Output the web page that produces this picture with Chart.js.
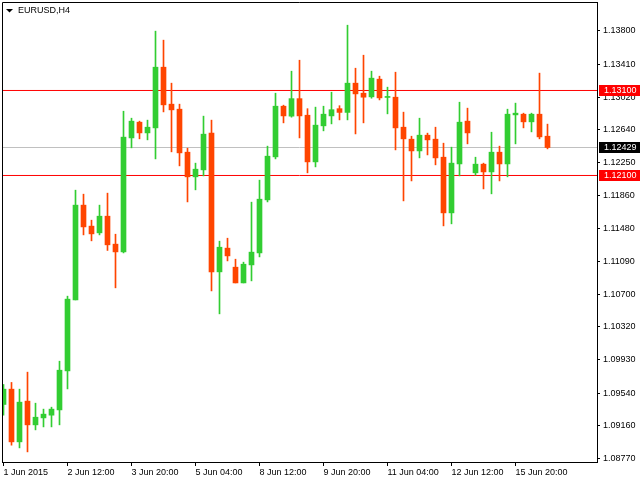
<!DOCTYPE html>
<html>
<head>
<meta charset="utf-8">
<script src="https://cdn.jsdelivr.net/npm/chart.js@4"></script>
<style>
  html, body { margin: 0; padding: 0; background: #fff; }
  #wrap { width: 640px; height: 480px; }
</style>
</head>
<body>
<div id="wrap"><canvas id="eurusdChart"></canvas></div>
<script>
// EURUSD H4 candles, 1 Jun 2015 .. 16 Jun 2015
const opens = [
  1.09406, 1.09586, 1.08966, 1.09445, 1.09166, 1.09248, 1.09280, 1.09342, 1.09801, 1.10636,
  1.11751, 1.11504, 1.11425, 1.11621, 1.11292, 1.11201, 1.12542, 1.12727, 1.12601, 1.12660,
  1.13374, 1.12939, 1.12880, 1.12374, 1.12084, 1.12166, 1.12598, 1.10966, 1.11245, 1.11021,
  1.10836, 1.11048, 1.11189, 1.11813, 1.12319, 1.12915, 1.12798, 1.13004, 1.12809, 1.12260,
  1.12684, 1.12801, 1.12886, 1.12842, 1.13186, 1.13068, 1.13025, 1.13233, 1.13018, 1.13021,
  1.12668, 1.12527, 1.12389, 1.12574, 1.12527, 1.12315, 1.11660, 1.12236, 1.12739, 1.12131,
  1.12233, 1.12142, 1.12374, 1.12236, 1.12813, 1.12821, 1.12731, 1.12821, 1.12562
];
const highs = [
  1.09641, 1.09665, 1.09586, 1.09786, 1.09421, 1.09351, 1.09374, 1.09915, 1.10680, 1.11927,
  1.11880, 1.11574, 1.11751, 1.11892, 1.11409, 1.12856, 1.12774, 1.12739, 1.12751, 1.13798,
  1.13692, 1.13186, 1.12939, 1.12421, 1.12245, 1.12798, 1.12751, 1.11327, 1.11362, 1.11115,
  1.11080, 1.11786, 1.12045, 1.12445, 1.13068, 1.12927, 1.13327, 1.13456, 1.12886, 1.12904,
  1.12915, 1.13080, 1.12921, 1.13868, 1.13362, 1.13515, 1.13327, 1.13268, 1.13139, 1.13315,
  1.12845, 1.12562, 1.12774, 1.12598, 1.12668, 1.12480, 1.12433, 1.12962, 1.12892, 1.12315,
  1.12245, 1.12609, 1.12445, 1.12880, 1.12951, 1.12833, 1.12833, 1.13304, 1.12704
];
const lows = [
  1.09280, 1.08927, 1.08895, 1.08848, 1.09107, 1.09142, 1.09142, 1.09166, 1.09589, 1.10636,
  1.11401, 1.11331, 1.11401, 1.11218, 1.10778, 1.11189, 1.12425, 1.12531, 1.12519, 1.12295,
  1.12848, 1.12378, 1.12213, 1.11789, 1.11931, 1.12095, 1.10742, 1.10472, 1.11095, 1.10836,
  1.10836, 1.10860, 1.11142, 1.11789, 1.12295, 1.12719, 1.12786, 1.12542, 1.12131, 1.12201,
  1.12625, 1.12707, 1.12754, 1.12754, 1.12589, 1.12719, 1.13009, 1.12989, 1.12825, 1.12401,
  1.11801, 1.12036, 1.12307, 1.12342, 1.12225, 1.11507, 1.11531, 1.12095, 1.12472, 1.12104,
  1.11942, 1.11884, 1.12036, 1.12084, 1.12472, 1.12660, 1.12613, 1.12531, 1.12413
];
const closes = [
  1.09586, 1.08966, 1.09433, 1.09166, 1.09256, 1.09292, 1.09351, 1.09809, 1.10645, 1.11751,
  1.11495, 1.11413, 1.11621, 1.11284, 1.11201, 1.12551, 1.12739, 1.12601, 1.12668, 1.13374,
  1.12931, 1.12872, 1.12366, 1.12084, 1.12174, 1.12586, 1.10966, 1.11256, 1.11154, 1.10836,
  1.11056, 1.11198, 1.11821, 1.12327, 1.12915, 1.12801, 1.13004, 1.12801, 1.12260, 1.12692,
  1.12821, 1.12874, 1.12842, 1.13186, 1.13060, 1.13021, 1.13245, 1.13013, 1.13021, 1.12660,
  1.12531, 1.12389, 1.12574, 1.12519, 1.12307, 1.11660, 1.12245, 1.12727, 1.12601, 1.12233,
  1.12142, 1.12374, 1.12236, 1.12821, 1.12833, 1.12731, 1.12821, 1.12554, 1.12429
];

const xTickLabels = ['1 Jun 2015', '2 Jun 12:00', '3 Jun 20:00', '5 Jun 04:00', '8 Jun 12:00',
                     '9 Jun 20:00', '11 Jun 04:00', '12 Jun 12:00', '15 Jun 20:00'];
const yTickValues = [1.13800, 1.13410, 1.13020, 1.12640, 1.12250, 1.11860, 1.11480,
                     1.11090, 1.10700, 1.10320, 1.09930, 1.09540, 1.09160, 1.08770];
const levelLines = [1.13100, 1.12100];
const lastPrice = 1.12429;

const BULL = '#32CD32';
const BEAR = '#FF4500';
const X_MIN = -0.1875, X_MAX = 74.1875;   // 8px per bar, empty space on the right
const Y_MIN = 1.08729, Y_MAX = 1.14141;
const BARS_PER_LABEL = 8;

Chart.defaults.font.family = "'Liberation Sans', Arial, sans-serif";
Chart.defaults.font.size = 9;
Chart.defaults.color = '#000';

const candleColors = opens.map((o, i) => closes[i] >= o ? BULL : BEAR);

const hLine = (v, color) => ({
  type: 'line',
  data: [{ x: X_MIN, y: v }, { x: X_MAX, y: v }],
  borderColor: color,
  backgroundColor: color,
  borderWidth: 1,
  pointRadius: 0,
  fill: false,
  order: 5
});

// no extra room for the edge labels, the frame is fixed
const noEdgePadding = s => {
  s.paddingTop = 0;
  s.paddingBottom = 0;
  s.paddingLeft = 0;
  s.paddingRight = 0;
};

// frame, price tags on the right axis and the symbol caption
const mtDecor = {
  id: 'mtDecor',
  afterDraw(chart) {
    const c = chart.ctx;
    const a = chart.chartArea;
    const y = chart.scales.y;
    c.save();
    c.strokeStyle = '#000';
    c.lineWidth = 1;
    c.beginPath();
    c.moveTo(a.left + 0.5, a.bottom);
    c.lineTo(a.left + 0.5, a.top + 0.5);
    c.lineTo(a.right, a.top + 0.5);
    c.stroke();

    const tag = (v, bg) => {
      const py = y.getPixelForValue(v);
      c.fillStyle = bg;
      c.fillRect(a.right + 2, Math.floor(py) - 5, 43, 11);
      c.fillStyle = '#fff';
      c.font = "9px 'Liberation Sans', Arial, sans-serif";
      c.textAlign = 'left';
      c.textBaseline = 'middle';
      c.fillText(v.toFixed(5), a.right + 7, py);
    };
    levelLines.forEach(v => tag(v, '#FF0000'));
    tag(lastPrice, '#000');

    // caption
    c.fillStyle = '#000';
    c.beginPath();
    c.moveTo(6, 9);
    c.lineTo(13, 9);
    c.lineTo(9.5, 12.5);
    c.closePath();
    c.fill();
    c.font = "9px 'Liberation Sans', Arial, sans-serif";
    c.textAlign = 'left';
    c.textBaseline = 'middle';
    c.fillText('EURUSD,H4', 18, 11);
    c.restore();
  }
};

new Chart(document.getElementById('eurusdChart'), {
  type: 'bar',
  data: {
    datasets: [
      {
        label: 'body',
        data: opens.map((o, i) => ({ x: i, y: [o, closes[i]] })),
        backgroundColor: candleColors,
        borderWidth: 0,
        barThickness: 5,
        minBarLength: 1,
        grouped: false,
        clip: 0,
        order: 0
      },
      {
        label: 'wick',
        data: highs.map((h, i) => ({ x: i, y: [lows[i], h] })),
        backgroundColor: candleColors,
        borderWidth: 0,
        barThickness: 1,
        grouped: false,
        clip: 0,
        order: 1
      },
      hLine(levelLines[0], '#FF0000'),
      hLine(levelLines[1], '#FF0000'),
      hLine(lastPrice, '#C0C0C0')
    ]
  },
  options: {
    responsive: true,
    maintainAspectRatio: false,
    animation: false,
    layout: { padding: { left: 2, top: 2, right: 0, bottom: 0 } },
    plugins: {
      legend: { display: false },
      tooltip: { enabled: false }
    },
    scales: {
      x: {
        type: 'linear',
        position: 'bottom',
        offset: false,
        min: X_MIN,
        max: X_MAX,
        afterBuildTicks: axis => {
          axis.ticks = xTickLabels.map((_, k) => ({ value: k * BARS_PER_LABEL }));
        },
        afterFit: s => { s.height = 18; noEdgePadding(s); },
        ticks: {
          callback: (v, idx) => xTickLabels[idx],
          align: 'start',
          autoSkip: false,
          maxRotation: 0,
          padding: 1,
          color: '#000'
        },
        grid: { offset: false, drawOnChartArea: false, drawTicks: true, tickLength: 4, color: '#000' },
        border: { color: '#000' }
      },
      y: {
        type: 'linear',
        position: 'right',
        min: Y_MIN,
        max: Y_MAX,
        afterBuildTicks: axis => {
          axis.ticks = yTickValues.map(v => ({ value: v }));
        },
        afterFit: s => { s.width = 43; noEdgePadding(s); },
        ticks: {
          callback: v => v.toFixed(5),
          autoSkip: false,
          padding: 3,
          color: '#000'
        },
        grid: { drawOnChartArea: false, drawTicks: true, tickLength: 3, color: '#000' },
        border: { color: '#000' }
      }
    }
  },
  plugins: [mtDecor]
});
</script>
</body>
</html>
